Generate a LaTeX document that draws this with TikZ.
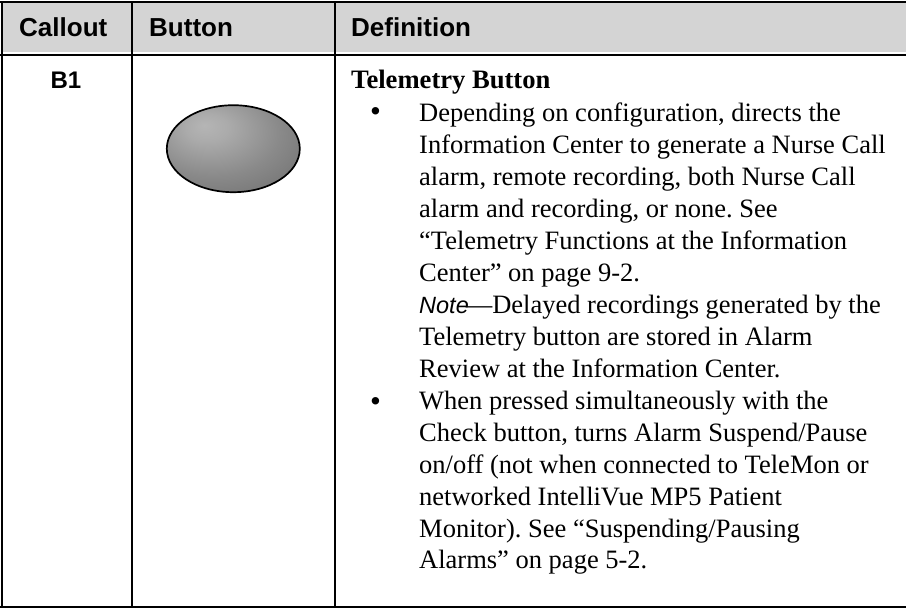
\documentclass[tikz,border=0pt]{standalone}
\usepackage{fontspec}
\setmainfont{Liberation Serif}
\setsansfont{Liberation Sans}
\usetikzlibrary{shapes.geometric}
\pgfdeclareradialshading{btnshade}{\pgfpoint{-11bp}{13.5bp}}{
  color(0bp)=(black!29); color(8bp)=(black!33); color(25bp)=(black!46); color(45bp)=(black!58); color(62bp)=(black!68); color(80bp)=(black!75)}
\tikzset{
  x=1pt,y=-1pt,
  rule/.style={line width=2pt,draw=black,line cap=butt},
  headtxt/.style={anchor=base west,inner sep=0pt,font=\fontsize{26}{26}\sffamily\bfseries},
  calltxt/.style={anchor=base,inner sep=0pt,font=\fontsize{24}{24}\sffamily\bfseries},
  bodytxt/.style={anchor=base west,inner sep=0pt,font=\fontsize{26.5}{32}\selectfont\frenchspacing},
  bullet/.style={anchor=base west,inner sep=0pt,font=\fontsize{31}{31}\selectfont}
}
\begin{document}
\begin{tikzpicture}
\useasboundingbox (0,0) rectangle (906,608);
\fill[white] (0,0) rectangle (906,608);
\fill[black!17] (2,2) rectangle (906,52);
\draw[rule] (0,2) -- (906,2);
\draw[rule] (0,55) -- (906,55);
\draw[rule] (0,607) -- (906,607);
\draw[rule] (2,1) -- (2,608);
\draw[rule] (132,1) -- (132,608);
\draw[rule] (335,1) -- (335,608);
\node[headtxt] (hc) at (19,36) {Callout};
\node[headtxt] (hb) at (149,36) {Button};
\node[headtxt] (hd) at (351,36) {Definition};
\node[calltxt] (b1) at (66,88) {B1};
\node[ellipse,minimum width=133,minimum height=87,inner sep=0pt,draw=black,line width=1.7pt,shading=btnshade] (btn) at (233.3,148.7) {};
\node[bodytxt,font=\fontsize{26.6}{32}\bfseries] (t0) at (351,88) {Telemetry Button};
\node[bullet] (b01) at (370,121.8) {•};
\node[bullet] (b02) at (370,411) {•};
\foreach \n/\y/\t in {
 1/121/{Depending on configuration, directs the},
 2/153/{Information Center to generate a Nurse Call},
 3/185/{alarm, remote recording, both Nurse Call},
 4/217/{alarm and recording, or none. See},
 5/249/{“Telemetry Functions at the Information},
 6/281/{Center” on page 9-2.},
 7/313/{{\sffamily\itshape\fontsize{23.5}{32}\selectfont Note}\kern-3pt—Delayed recordings generated by the},
 8/345/{Telemetry button are stored in Alarm},
 9/377/{Review at the Information Center.},
 10/409/{When pressed simultaneously with the},
 11/441/{Check button, turns Alarm Suspend/Pause},
 12/473/{on/off (not when connected to TeleMon or},
 13/505/{networked IntelliVue MP5 Patient},
 14/537/{Monitor). See “Suspending/Pausing},
 15/568/{Alarms” on page 5-2.}}
 {\node[bodytxt] (l\n) at (419,\y) {\t};}
\end{tikzpicture}
\end{document}
